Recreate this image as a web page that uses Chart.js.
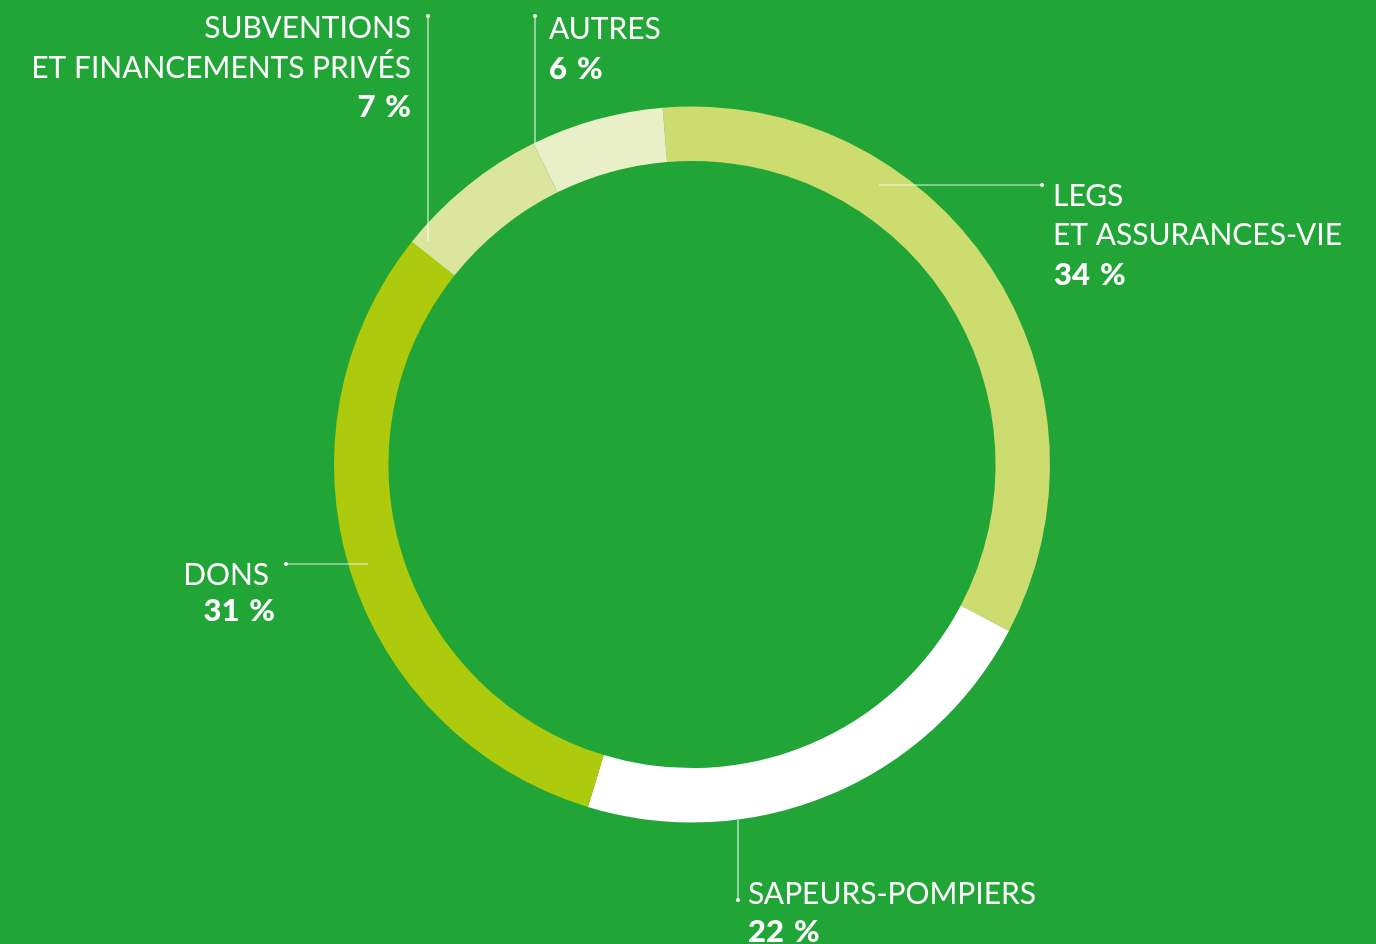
<!DOCTYPE html>
<html lang="fr">
<head>
<meta charset="utf-8">
<title>Répartition des ressources</title>
<script src="https://cdn.jsdelivr.net/npm/chart.js@4.4.1/dist/chart.umd.min.js"></script>
<style>
  html, body { margin: 0; padding: 0; background: #21a537; overflow: hidden; }
  #chart { display: block; }
</style>
</head>
<body>
<canvas id="chart" width="1376" height="944"></canvas>
<script>
const categories = [
  ['LEGS', 'ET ASSURANCES-VIE'],
  ['SAPEURS-POMPIERS'],
  ['DONS'],
  ['SUBVENTIONS', 'ET FINANCEMENTS PRIVÉS'],
  ['AUTRES']
];
const shares = [34, 22, 31, 7, 6];
const colors = ['#cddc6e', '#ffffff', '#adca0c', '#dbe59d', '#e9f0c8'];

const BG = '#21a537';
const FONT = 'Lato, "Open Sans", sans-serif';

// Placement des étiquettes (mise en page uniquement)
const callouts = [
  { line: [879, 185, 1042, 185], dot: [1042, 185], align: 'left',  xs: [1053, 1053, 1054], ys: [206, 245, 285] },
  { line: [738, 820, 738, 900],  dot: [738, 900],  align: 'left',  xs: [748, 748],         ys: [904, 942] },
  { line: [286, 564, 368, 564],  dot: [286, 564],  align: 'right', xs: [269, 275],         ys: [585, 621] },
  { line: [428, 16, 428, 241],   dot: [428, 16],   align: 'right', xs: [411, 411, 411],    ys: [38, 78, 117] },
  { line: [535, 16, 535, 143],   dot: [535, 16],   align: 'left',  xs: [549, 549],         ys: [39, 79] }
];

// pourcentage en gras : nombre, espace large, signe %
function drawShare(ctx, value, x, y, align) {
  ctx.save();
  ctx.font = '900 31px ' + FONT;
  ctx.textAlign = 'left';
  ctx.textBaseline = 'alphabetic';
  const num = String(value);
  const gap = 10;
  const wNum = ctx.measureText(num).width;
  const wPct = ctx.measureText('%').width;
  const total = wNum + gap + wPct;
  const x0 = align === 'right' ? x - total : x;
  ctx.fillText(num, x0, y);
  ctx.fillText('%', x0 + wNum + gap, y);
  ctx.restore();
}

const calloutPlugin = {
  id: 'callouts',
  beforeDraw(chart) {
    const ctx = chart.ctx;
    ctx.save();
    ctx.fillStyle = BG;
    ctx.fillRect(0, 0, chart.width, chart.height);
    ctx.restore();
  },
  afterDraw(chart) {
    const ctx = chart.ctx;
    ctx.save();
    // facteur de condensation pour approcher la police d'origine
    ctx.font = '31px ' + FONT;
    const sx = 288 / ctx.measureText('SAPEURS-POMPIERS').width;

    callouts.forEach((c, i) => {
      ctx.strokeStyle = 'rgba(255,255,255,0.85)';
      ctx.lineWidth = 1.2;
      ctx.beginPath();
      ctx.moveTo(c.line[0], c.line[1]);
      ctx.lineTo(c.line[2], c.line[3]);
      ctx.stroke();
      ctx.fillStyle = '#ffffff';
      ctx.beginPath();
      ctx.arc(c.dot[0], c.dot[1], 2, 0, Math.PI * 2);
      ctx.fill();

      const lines = categories[i];
      lines.forEach((t, k) => {
        ctx.save();
        ctx.font = '31px ' + FONT;
        ctx.textAlign = c.align;
        ctx.textBaseline = 'alphabetic';
        ctx.translate(c.xs[k], c.ys[k]);
        ctx.scale(sx, 1);
        ctx.fillText(t, 0, 0);
        ctx.restore();
      });
      const k = lines.length;
      drawShare(ctx, shares[i], c.xs[k], c.ys[k], c.align);
    });
    ctx.restore();
  }
};

new Chart(document.getElementById('chart'), {
  type: 'doughnut',
  data: {
    labels: categories,
    datasets: [{
      data: shares,
      backgroundColor: colors,
      borderWidth: 0,
      hoverOffset: 0
    }]
  },
  options: {
    responsive: false,
    animation: false,
    devicePixelRatio: 1,
    cutout: '84.8%',
    rotation: -4.7,
    layout: { padding: { left: 334, right: 326, top: 106.5, bottom: 121.5 } },
    plugins: {
      legend: { display: false },
      tooltip: { enabled: false }
    }
  },
  plugins: [calloutPlugin]
});
</script>
</body>
</html>
